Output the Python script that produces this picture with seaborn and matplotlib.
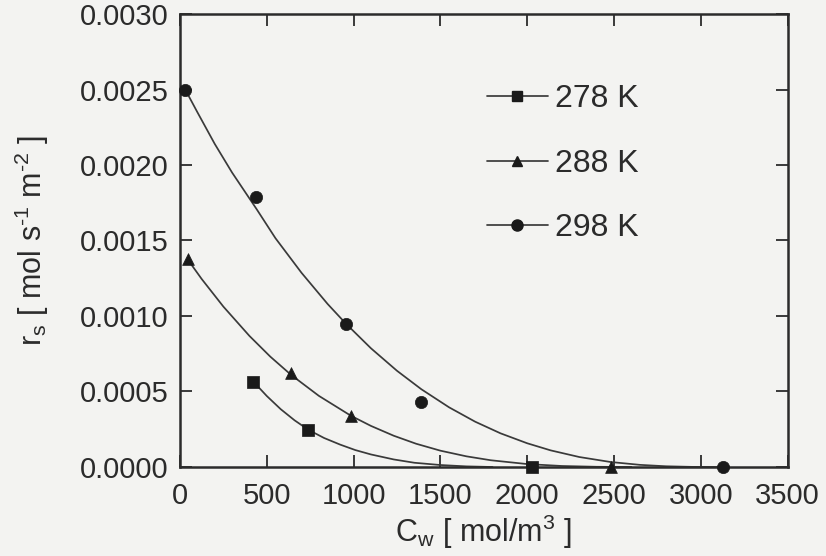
import numpy as np
import pandas as pd
import matplotlib
matplotlib.use("Agg")
import matplotlib.pyplot as plt
from matplotlib.lines import Line2D
import seaborn as sns

# Measured rates (points)
cw_278 = [423, 740, 2030]
rs_278 = [0.000565, 0.000245, 0.0]
cw_288 = [44, 640, 985, 2480]
rs_288 = [0.001375, 0.00062, 0.00034, 0.0]
cw_298 = [30, 440, 955, 1390, 3130]
rs_298 = [0.00250, 0.00179, 0.000947, 0.00043, 0.0]

# Fitted curves
fit_cw_278 = [423, 500, 580, 660, 740, 830, 923, 1010, 1100, 1231, 1350,
              1500, 1650, 1800]
fit_rs_278 = [0.000565, 0.00047, 0.000383, 0.000309, 0.000246, 0.000192,
              0.000148, 0.000112, 0.000083, 0.00005, 0.000028, 0.000013,
              0.000004, 0.0]
fit_cw_288 = [44, 125, 250, 400, 520, 640, 800, 985, 1100, 1231, 1360, 1500,
              1650, 1790, 2000, 2200, 2400, 2600]
fit_rs_288 = [0.001375, 0.001245, 0.001062, 0.000868, 0.000731, 0.00061,
              0.000471, 0.000339, 0.000272, 0.000207, 0.000154, 0.000108,
              0.0000705, 0.0000446, 0.0000193, 0.0000066, 0.0000013, 0.0]
fit_cw_298 = [30, 100, 200, 300, 440, 550, 700, 850, 955, 1100, 1250, 1390,
              1550, 1700, 1846, 2000, 2135, 2300, 2480, 2650, 2800, 2950, 3100]
fit_rs_298 = [0.00250, 0.00235, 0.00214, 0.00195, 0.00171, 0.001515,
              0.001286, 0.00108, 0.00095, 0.000786, 0.000637, 0.000515,
              0.000395, 0.0003, 0.000223, 0.000157, 0.00011, 0.000066,
              0.000033, 0.000014, 0.0000047, 0.0000007, 0.0]

series_labels = ["278 K", "288 K", "298 K"]
series_markers = ["s", "^", "o"]

x_ticks = [0, 500, 1000, 1500, 2000, 2500, 3000, 3500]
y_ticks = [0.0, 0.0005, 0.0010, 0.0015, 0.0020, 0.0025, 0.0030]
y_tick_labels = ["0.0000", "0.0005", "0.0010", "0.0015", "0.0020", "0.0025", "0.0030"]

sns.set_style("ticks")
plt.rcParams["font.family"] = ["Liberation Sans", "DejaVu Sans"]
plt.rcParams["mathtext.fontset"] = "custom"
plt.rcParams["mathtext.rm"] = "Liberation Sans"
plt.rcParams["mathtext.it"] = "Liberation Sans"
plt.rcParams["mathtext.default"] = "regular"

ink = "#2b2b2b"
curve_ink = "#3a3a3a"
paper = "#f3f3f1"

fig = plt.figure(figsize=(8.26, 5.56), dpi=100, facecolor=paper)
ax = fig.add_axes([0.2179, 0.1601, 0.7357, 0.8147])
ax.set_facecolor(paper)

fits = [(fit_cw_278, fit_rs_278), (fit_cw_288, fit_rs_288), (fit_cw_298, fit_rs_298)]
pts = [(cw_278, rs_278), (cw_288, rs_288), (cw_298, rs_298)]
sizes = {"s": 64, "^": 72, "o": 78}

for (fx, fy) in fits:
    sns.lineplot(x=fx, y=fy, ax=ax, color=curve_ink, linewidth=1.25,
                 sort=False, estimator=None, legend=False, clip_on=False)

for (px, py), m in zip(pts, series_markers):
    sns.scatterplot(x=px, y=py, ax=ax, marker=m, s=sizes[m], color="#1a1a1a",
                    edgecolor="#1a1a1a", linewidth=0.5, legend=False,
                    clip_on=False, zorder=5)

ax.set_xlim(0, 3500)
ax.set_ylim(0, 0.0030)
ax.set_xticks(x_ticks)
ax.set_xticklabels([str(t) for t in x_ticks])
ax.set_yticks(y_ticks)
ax.set_yticklabels(y_tick_labels)

for s in ax.spines.values():
    s.set_visible(True)
    s.set_linewidth(1.8)
    s.set_color(ink)

ax.tick_params(axis="both", which="major", direction="in", length=8.5,
               width=1.3, color=ink, labelcolor=ink, labelsize=21,
               top=True, right=True)
ax.tick_params(axis="x", pad=11)
ax.tick_params(axis="y", pad=8)

ax.set_xlabel(r"C$_\mathrm{w}$ [ mol/m$^3$ ]", fontsize=22, color=ink, labelpad=1.5)
ax.set_ylabel(r"r$_\mathrm{s}$ [ mol s$^{\text{-}1}$ m$^{\text{-}2}$ ]",
              fontsize=22, color=ink, labelpad=21)

handles = [Line2D([0], [0], color=curve_ink, linewidth=1.25, marker=m,
                  markersize=ms, markerfacecolor="#1a1a1a",
                  markeredgecolor="#1a1a1a")
           for m, ms in zip(series_markers, [7.5, 7.5, 8])]
ax.legend(handles, series_labels, loc="upper left",
          bbox_to_anchor=(0.505, 0.845), frameon=False, fontsize=23,
          handlelength=1.9, handletextpad=0.22, labelspacing=1.08,
          borderpad=0, borderaxespad=0, labelcolor=ink)

fig.savefig("out.png", dpi=100, facecolor=paper)
